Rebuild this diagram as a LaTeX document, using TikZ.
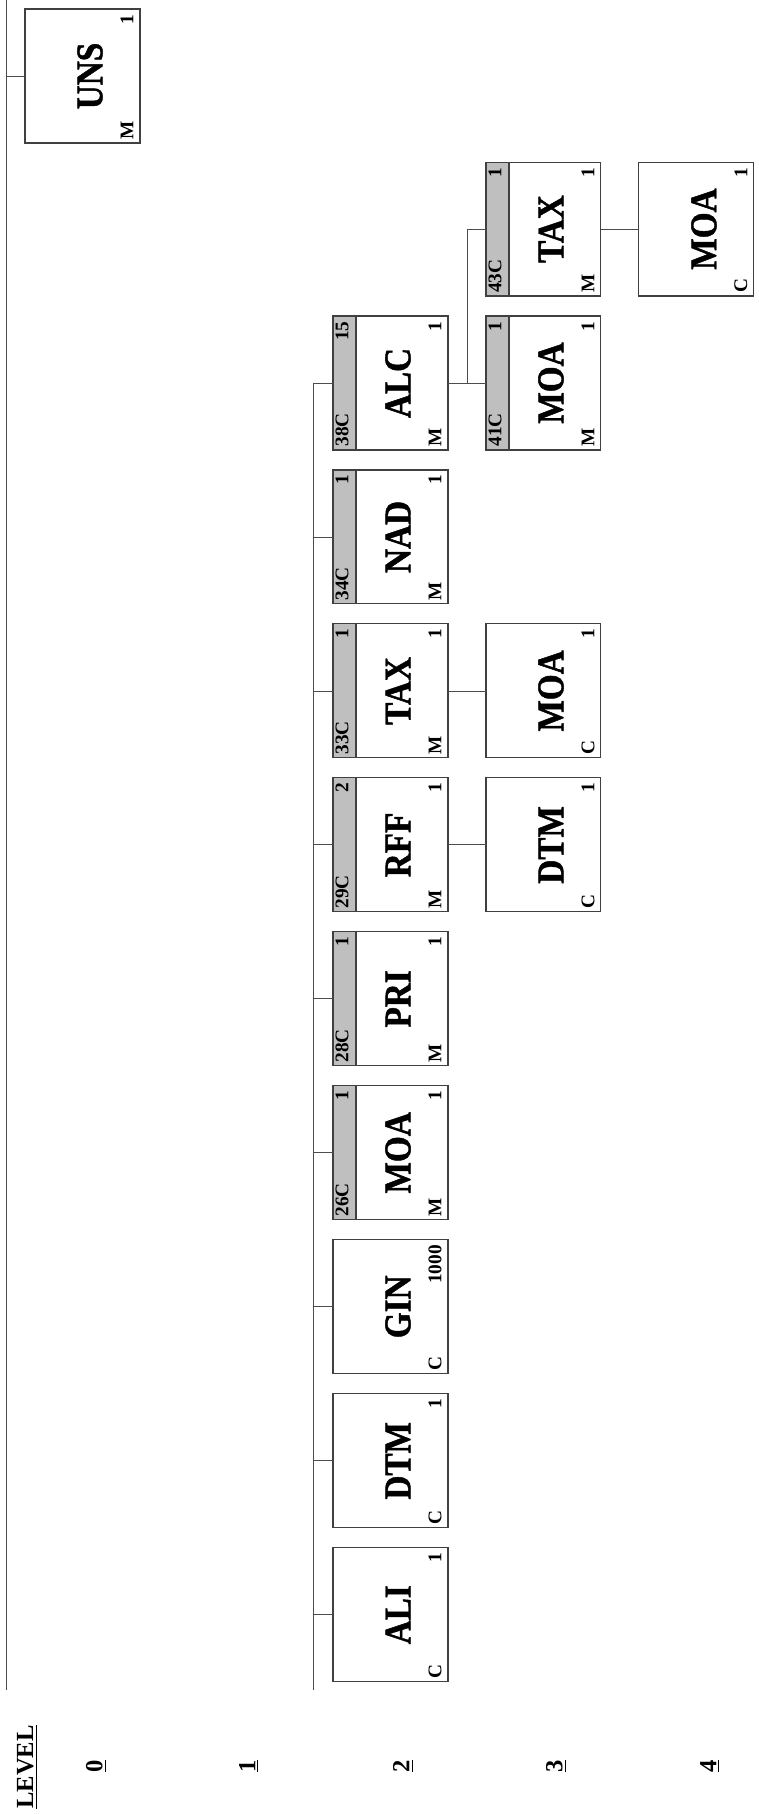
\documentclass[tikz,border=0pt]{standalone}
\usepackage{fontspec}
\setmainfont{Liberation Serif}
\newfontfamily\segfont[FakeStretch=0.88, FakeBold=1.2]{Liberation Serif Bold}
\usepackage{tikz}
\usetikzlibrary{positioning, backgrounds}

% labels inside a segment box
\newcommand{\seglabels}[4]{%
  \node[tag] at ([shift={(7.5,0)}]#1.center) {#2};
  \node[mini, anchor=east] at ([shift={(-13,-5)}]#1.north east) {#4};
  \node[mini, anchor=west] at ([shift={(-13,3)}]#1.south east) {#3};
}
% grey group band on the left of a box
\newcommand{\grouptag}[3]{%
  \begin{scope}[on background layer]
    \filldraw[band] (#1.north west) rectangle ([shift={(23,0)}]#1.south west);
  \end{scope}
  \node[mini, anchor=east] at ([shift={(9,-5)}]#1.north west) {#3};
  \node[mini, anchor=west] at ([shift={(9,3)}]#1.south west) {#2};
}

\begin{document}
\begin{tikzpicture}[x=0.02cm, y=0.02cm, node distance=0.4cm and 0.76cm,
  seg/.style={rectangle, draw=black!75, line width=0.6pt, minimum width=2.3cm, minimum height=2.68cm, inner sep=0pt, outer sep=0pt},
  band/.style={fill=gray!50, draw=black!75, line width=0.6pt},
  tag/.style={rotate=90, inner sep=0pt, font=\segfont\fontsize{21.5}{23}\selectfont},
  mini/.style={rotate=90, inner sep=0pt, font=\fontsize{11}{12}\selectfont\bfseries},
  lvl/.style={rotate=90, inner sep=0pt, font=\fontsize{14}{16}\selectfont\bfseries},
  link/.style={draw=black!70, line width=0.5pt}]
  \useasboundingbox (0,0) rectangle (758,-1814);

  % level 0
  \node[seg] (uns) at (82.5,-76) {};
  % level 2
  \node[seg] (alc) at (390.5,-383) {};
  \node[seg, below=of alc] (nad) {};
  \node[seg, below=of nad] (tax) {};
  \node[seg, below=of tax] (rff) {};
  \node[seg, below=of rff] (pri) {};
  \node[seg, below=of pri] (moa) {};
  \node[seg, below=of moa] (gin) {};
  \node[seg, below=of gin] (dtm) {};
  \node[seg, below=of dtm] (ali) {};
  % level 3
  \node[seg, right=of alc] (alcmoa) {};
  \node[seg, above=of alcmoa] (alctax) {};
  \node[seg, right=of tax] (taxmoa) {};
  \node[seg, right=of rff] (rffdtm) {};
  % level 4
  \node[seg, right=of alctax] (alctaxmoa) {};

  \seglabels{uns}{UNS}{M}{1}
  \seglabels{alc}{ALC}{M}{1}          \grouptag{alc}{38C}{15}
  \seglabels{nad}{NAD}{M}{1}          \grouptag{nad}{34C}{1}
  \seglabels{tax}{TAX}{M}{1}          \grouptag{tax}{33C}{1}
  \seglabels{rff}{RFF}{M}{1}          \grouptag{rff}{29C}{2}
  \seglabels{pri}{PRI}{M}{1}          \grouptag{pri}{28C}{1}
  \seglabels{moa}{MOA}{M}{1}          \grouptag{moa}{26C}{1}
  \seglabels{gin}{GIN}{C}{1000}
  \seglabels{dtm}{DTM}{C}{1}
  \seglabels{ali}{ALI}{C}{1}
  \seglabels{alcmoa}{MOA}{M}{1}       \grouptag{alcmoa}{41C}{1}
  \seglabels{alctax}{TAX}{M}{1}       \grouptag{alctax}{43C}{1}
  \seglabels{taxmoa}{MOA}{C}{1}
  \seglabels{rffdtm}{DTM}{C}{1}
  \seglabels{alctaxmoa}{MOA}{C}{1}

  % connectors
  \coordinate (l0top) at (6,0);
  \coordinate (l0bot) at (6,-1690);
  \coordinate (l2bot) at (313,-1690);
  \draw[link] (l0top) -- (l0bot);
  \draw[link] (uns.west) -- (uns.west -| l0top);
  \draw[link] (alc.west -| l2bot) -- (l2bot);
  \foreach \s in {alc,nad,tax,rff,pri,moa,gin,dtm,ali}
    \draw[link] (\s.west) -- (\s.west -| l2bot);
  \coordinate (j3) at ([shift={(-19,0)}]alcmoa.west);
  \draw[link] (alc.east) -- (alcmoa.west);
  \draw[link] (j3) |- (alctax.west);
  \draw[link] (alctax.east) -- (alctaxmoa.west);
  \draw[link] (tax.east) -- (taxmoa.west);
  \draw[link] (rff.east) -- (rffdtm.west);

  % level scale
  \node[lvl] (lvlhead) at (27,-1767) {\underline{LEVEL}};
  \node[lvl] (lvl0) at (96,-1766) {\underline{0}};
  \node[lvl] (lvl1) at (249,-1766) {\underline{1}};
  \node[lvl] (lvl2) at (403,-1766) {\underline{2}};
  \node[lvl] (lvl3) at (556,-1766) {\underline{3}};
  \node[lvl] (lvl4) at (710,-1766) {\underline{4}};
\end{tikzpicture}
\end{document}
